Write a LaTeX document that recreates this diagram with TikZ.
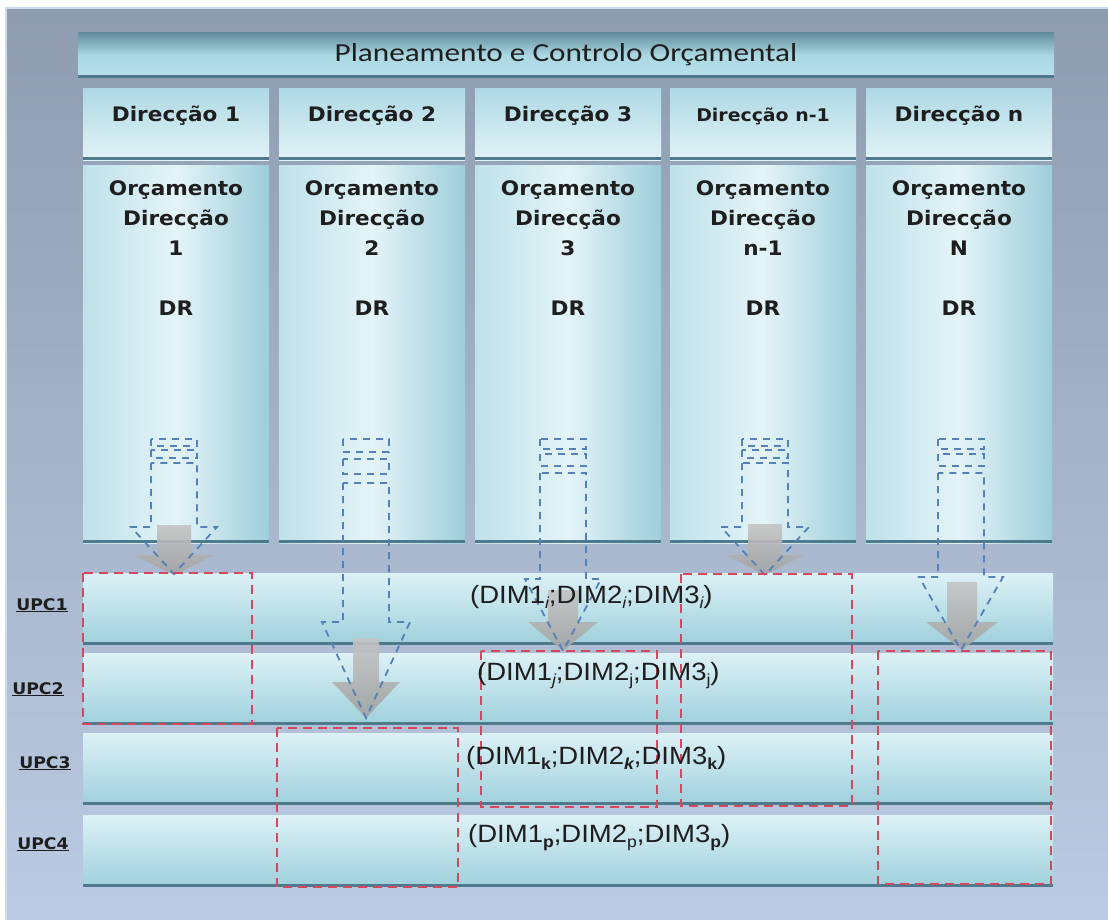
\documentclass[tikz,border=0pt]{standalone}
\usepackage{fontspec}
\setmainfont{DejaVu Sans}
\newfontfamily\titlefont{Carlito}[FakeStretch=1.2]
\newfontfamily\boxfont{DejaVu Sans}[FakeStretch=1.08]
\newfontfamily\dimfont{Liberation Sans}[FakeStretch=1.1]
\newcommand{\dimsub}[1]{\raisebox{-0.22em}{\fontsize{16}{16}\selectfont #1}}

\definecolor{framtop}{HTML}{8E9CAE}
\definecolor{frambot}{HTML}{BBCBE3}
\definecolor{framline}{HTML}{C9DDEE}
\definecolor{bartop}{HTML}{628C9C}
\definecolor{barmid}{HTML}{A9D7E2}
\definecolor{barbot}{HTML}{B8E1EA}
\definecolor{headtop}{HTML}{ADD9E4}
\definecolor{headbot}{HTML}{E2F3F7}
\definecolor{colleft}{HTML}{BEE1EA}
\definecolor{colmid}{HTML}{E4F4F8}
\definecolor{colright}{HTML}{9DCEDA}
\definecolor{rowtop}{HTML}{DCF1F6}
\definecolor{rowbot}{HTML}{9FD0DC}
\definecolor{edgecol}{HTML}{4E7A8C}
\definecolor{arrtop}{HTML}{C4C4C4}
\definecolor{arrbot}{HTML}{A2A2A2}
\definecolor{dashred}{HTML}{D4475C}
\definecolor{dashblue}{HTML}{5581B8}
\definecolor{txtdark}{HTML}{1E1E1E}

\begin{document}
\begin{tikzpicture}[
    x=1pt, y=-1pt,
    edgeline/.style={line width=3pt, draw=edgecol},
    darkfoot/.style={path picture={\draw[edgeline] ([yshift=1.5pt]path picture bounding box.south west) -- ([yshift=1.5pt]path picture bounding box.south east);}},
    titlebar/.style={darkfoot, top color=bartop, bottom color=barbot, middle color=barmid, minimum width=976, minimum height=45, inner sep=0pt, font=\titlefont\fontsize{26}{30}\selectfont, text=txtdark},
    dirhead/.style={darkfoot, top color=headtop, bottom color=headbot, minimum width=186, minimum height=72, inner sep=0pt, text height=12pt, text depth=18pt, font=\boxfont\bfseries\fontsize{20}{24}\selectfont, text=txtdark},
    colbody/.style={darkfoot, left color=colleft, right color=colright, middle color=colmid, minimum width=186, minimum height=378, inner sep=0pt},
    bodytxt/.style={anchor=north, align=center, inner sep=0pt, font=\boxfont\bfseries\fontsize{20}{30}\selectfont, text=txtdark},
    upcrow/.style={darkfoot, top color=rowtop, bottom color=rowbot, minimum width=970, minimum height=71, inner sep=0pt},
    upclab/.style={anchor=base, inner sep=0pt, font=\boxfont\bfseries\fontsize{16}{20}\selectfont, text=txtdark},
    dimtxt/.style={anchor=base west, inner sep=0pt, font=\dimfont\fontsize{25}{30}\selectfont, text=txtdark},
    grayarrow/.style={top color=arrtop, bottom color=arrbot, draw=none, opacity=.9},
    bluedash/.style={draw=dashblue, line width=1.8pt, dash pattern=on 7pt off 6pt},
    reddash/.style={draw=dashred, line width=2pt, dash pattern=on 9pt off 6pt}
]
\useasboundingbox (0,0) rectangle (1108,919);
\fill[white] (0,0) rectangle (1108,919);

% Background frame
\fill[top color=framtop, bottom color=frambot] (6,8) rectangle (1108,919);
\draw[framline, line width=1.5pt] (6,919) -- (6,8) -- (1108,8);

% Title bar
\node[titlebar] (plan) at (566,55) {Planeamento e Controlo Orçamental};

% Direction headers
\node[dirhead] (dir1) at (176,124) {Direcção 1};
\node[dirhead] (dir2) at (372,124) {Direcção 2};
\node[dirhead] (dir3) at (568,124) {Direcção 3};
\node[dirhead, text height=15pt, text depth=21pt, font=\boxfont\bfseries\fontsize{17.5}{20}\selectfont] (dir4) at (763,124) {Direcção n-1};
\node[dirhead] (dir5) at (959,124) {Direcção n};

% Budget columns
\node[colbody] (orc1) at (176,354) {};
\node[colbody] (orc2) at (372,354) {};
\node[colbody] (orc3) at (568,354) {};
\node[colbody] (orc4) at (763,354) {};
\node[colbody] (orc5) at (959,354) {};

\node[bodytxt] (txt1) at (176,180) {Orçamento\\Direcção\\1\\[30pt]DR};
\node[bodytxt] (txt2) at (372,180) {Orçamento\\Direcção\\2\\[30pt]DR};
\node[bodytxt] (txt3) at (568,180) {Orçamento\\Direcção\\3\\[30pt]DR};
\node[bodytxt] (txt4) at (763,180) {Orçamento\\Direcção\\n-1\\[30pt]DR};
\node[bodytxt] (txt5) at (959,180) {Orçamento\\Direcção\\N\\[30pt]DR};

% UPC rows
\node[upcrow] (upc1) at (568,609) {};
\node[upcrow] (upc2) at (568,689) {};
\node[upcrow] (upc3) at (568,769) {};
\node[upcrow] (upc4) at (568,851) {};

\node[upclab] (lab1) at (42,610) {\underline{UPC1}};
\node[upclab] (lab2) at (38,694) {\underline{UPC2}};
\node[upclab] (lab3) at (45,768) {\underline{UPC3}};
\node[upclab] (lab4) at (43,849) {\underline{UPC4}};

% Grey block arrows
\path[grayarrow] (157,525) -- (191,525) -- (191,555) -- (214,555) -- (174,575) -- (134,555) -- (157,555) -- cycle;
\path[grayarrow] (353,638) -- (379,638) -- (379,682) -- (400,682) -- (366,718) -- (332,682) -- (353,682) -- cycle;
\path[grayarrow] (548,590) -- (578,590) -- (578,622) -- (598,622) -- (563,651) -- (528,622) -- (548,622) -- cycle;
\path[grayarrow] (748,524) -- (782,524) -- (782,555) -- (804,555) -- (765,575) -- (726,555) -- (748,555) -- cycle;
\path[grayarrow] (947,582) -- (977,582) -- (977,622) -- (998,622) -- (962,650) -- (926,622) -- (947,622) -- cycle;

% Dashed striped arrows
\draw[bluedash] (151,439) rectangle (197,446) (151,450) rectangle (197,458);
\draw[bluedash] (151,463) -- (151,527) -- (131,527) -- (174,574) -- (217,527) -- (197,527) -- (197,463) -- cycle;
\draw[bluedash] (343,439) rectangle (389,452) (343,459) rectangle (389,474);
\draw[bluedash] (343,483) -- (343,622) -- (322,622) -- (366,718) -- (410,622) -- (389,622) -- (389,483) -- cycle;
\draw[bluedash] (540,439) rectangle (586,449) (540,454) rectangle (586,466);
\draw[bluedash] (540,473) -- (540,579) -- (525,579) -- (563,651) -- (601,579) -- (586,579) -- (586,473) -- cycle;
\draw[bluedash] (742,439) rectangle (788,446) (742,450) rectangle (788,458);
\draw[bluedash] (742,463) -- (742,527) -- (721,527) -- (765,575) -- (809,527) -- (788,527) -- (788,463) -- cycle;
\draw[bluedash] (938,439) rectangle (984,449) (938,454) rectangle (984,466);
\draw[bluedash] (938,473) -- (938,577) -- (919,577) -- (961,650) -- (1003,577) -- (984,577) -- (984,473) -- cycle;

% Red dashed groupings
\draw[reddash] (83,573) rectangle (252,724);
\draw[reddash] (277,728) rectangle (458,887);
\draw[reddash] (481,651) rectangle (657,807);
\draw[reddash] (681,574) rectangle (852,806);
\draw[reddash] (878,651) rectangle (1051,884);

% Dimension labels
\node[dimtxt] (dimi) at (470,603) {(DIM1\dimsub{\itshape i};DIM2\dimsub{\itshape i};DIM3\dimsub{\itshape i})};
\node[dimtxt] (dimj) at (477,680) {(DIM1\dimsub{\itshape j};DIM2\dimsub{j};DIM3\dimsub{j})};
\node[dimtxt] (dimk) at (466,764) {(DIM1\dimsub{\bfseries k};DIM2\dimsub{\bfseries\itshape k};DIM3\dimsub{\bfseries k})};
\node[dimtxt] (dimp) at (468,842) {(DIM1\dimsub{\bfseries p};DIM2\dimsub{p};DIM3\dimsub{\bfseries p})};

\end{tikzpicture}
\end{document}
